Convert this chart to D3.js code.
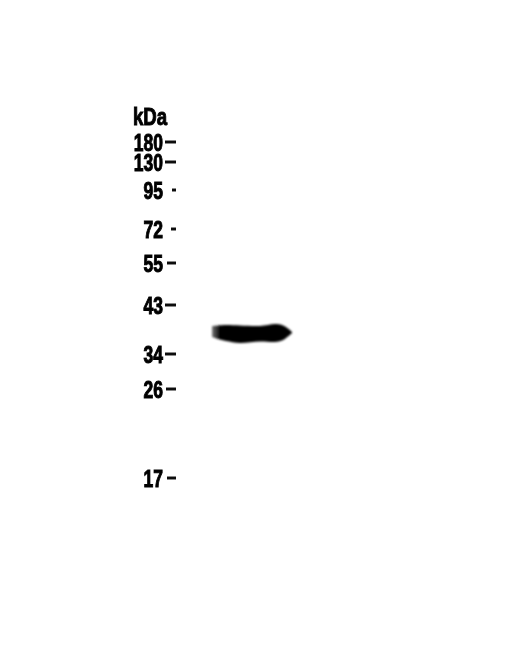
<!DOCTYPE html>
<html>
<head>
<meta charset="utf-8">
<script src="https://cdn.jsdelivr.net/npm/d3@7"></script>
<style>
  html, body { margin: 0; padding: 0; background: #fff; }
  svg { display: block; }
  text { font-family: "Liberation Sans", sans-serif; font-weight: 700; fill: #050505; stroke: #050505; stroke-width: 0.8; }
</style>
</head>
<body>
<svg id="blot" width="510" height="655"></svg>
<script>
const unitLabel = "kDa";
const markerLabels = ["180", "130", "95", "72", "55", "43", "34", "26", "17"];
// migration distance of each marker
const markerMigration = [142, 162, 190, 229, 263, 305, 354, 389, 478];
// width of the dash next to each label
const markerDash = [11, 11, 4, 5, 9, 11, 11, 10, 9];

// band outline: position along the lane, upper and lower edge
const bandLane = [0, 6, 14, 28, 48, 63, 70, 76, 80];
const bandUpper = [326, 325.5, 325, 325.5, 326, 324, 325, 328.5, 332];
const bandLower = [337, 339, 341, 343, 341.5, 342, 340.5, 336.5, 333];

const svg = d3.select("svg#blot");

const defs = svg.append("defs");
defs.append("filter").attr("id", "soft")
  .append("feGaussianBlur").attr("stdDeviation", 1.3);
defs.append("filter").attr("id", "ink")
  .append("feGaussianBlur").attr("stdDeviation", 0.4);

// left end of the band fades out
const fade = defs.append("linearGradient").attr("id", "bandFade");
fade.append("stop").attr("offset", "0%").attr("stop-color", "#777");
fade.append("stop").attr("offset", "10%").attr("stop-color", "#000");
fade.append("stop").attr("offset", "100%").attr("stop-color", "#000");

const y = d3.scaleLinear().domain([0, 655]).range([0, 655]);
const laneX = d3.scaleLinear().domain([0, 80]).range([212, 292]);

// ladder
const ladder = svg.append("g").attr("filter", "url(#ink)");

ladder.append("text")
  .attr("transform", translate(133, y(116)) + " scale(0.98,1.25)")
  .attr("dy", "0.36em")
  .attr("font-size", 19)
  .text(unitLabel);

const rows = ladder.selectAll("g.marker")
  .data(markerLabels)
  .enter()
  .append("g")
  .attr("class", "marker")
  .attr("transform", (d, i) => translate(0, y(markerMigration[i])));

rows.append("text")
  .attr("transform", translate(163, 0) + " scale(0.92,1.25)")
  .attr("dy", "0.36em")
  .attr("text-anchor", "end")
  .attr("font-size", 19)
  .text(d => d);

rows.append("rect")
  .attr("x", (d, i) => 176 - markerDash[i])
  .attr("y", -1.5)
  .attr("width", (d, i) => markerDash[i])
  .attr("height", 3)
  .attr("fill", "#111");

// band
const bandShape = d3.area()
  .x(d => laneX(d))
  .y0((d, i) => y(bandLower[i]))
  .y1((d, i) => y(bandUpper[i]))
  .curve(d3.curveCatmullRom);

svg.append("path")
  .datum(bandLane)
  .attr("d", bandShape)
  .attr("fill", "url(#bandFade)")
  .attr("filter", "url(#soft)");

function translate(x, y) {
  return "translate(" + String(x) + "," + String(y) + ")";
}
</script>
</body>
</html>
